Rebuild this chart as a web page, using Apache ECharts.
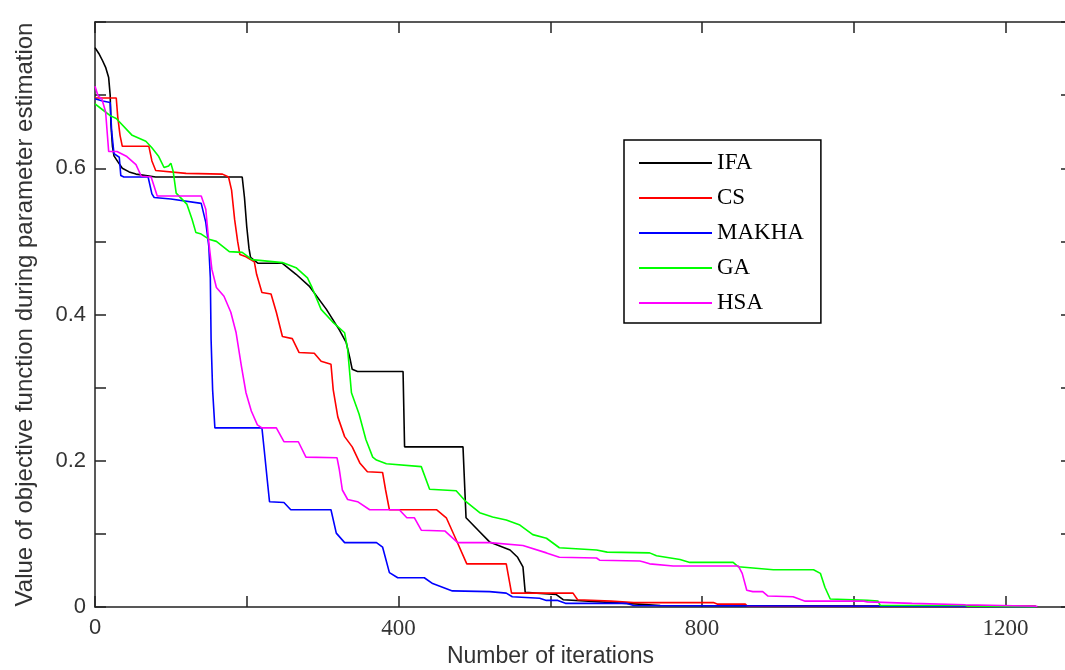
<!DOCTYPE html>
<html>
<head>
<meta charset="utf-8">
<script src="https://cdn.jsdelivr.net/npm/echarts@6/dist/echarts.min.js"></script>
<style>html,body{margin:0;padding:0;background:#fff;}#chart{width:1065px;height:670px;}</style>
</head>
<body>
<div id="chart"></div>
<script>
// Series names (legend order)
const seriesNames = ['IFA', 'CS', 'MAKHA', 'GA', 'HSA'];

// [iteration, objective value]
const ifaData = [[0,0.765],[5,0.757],[10,0.747],[14,0.738],[18,0.724],[20,0.70],[21,0.66],[23,0.63],[25,0.617],[30,0.609],[36,0.60],[45,0.595],[54,0.592],[80,0.588],[194,0.588],[197,0.56],[200,0.52],[203,0.49],[205,0.478],[215,0.47],[247,0.47],[265,0.455],[283,0.438],[305,0.407],[322,0.379],[331,0.362],[336,0.34],[339,0.325],[346,0.322],[406,0.322],[408,0.219],[485,0.219],[489,0.122],[505,0.105],[520,0.089],[547,0.078],[557,0.068],[564,0.055],[567,0.02],[608,0.017],[617,0.01],[700,0.005],[745,0.002],[1240,0.001]];

const csData = [[0,0.696],[28,0.696],[30,0.67],[33,0.645],[36,0.63],[71,0.63],[75,0.61],[80,0.597],[120,0.593],[168,0.592],[176,0.588],[180,0.57],[184,0.53],[188,0.5],[191,0.482],[199,0.479],[210,0.472],[213,0.455],[220,0.43],[232,0.428],[239,0.403],[247,0.37],[260,0.367],[269,0.348],[289,0.347],[298,0.336],[311,0.332],[314,0.297],[320,0.26],[329,0.233],[339,0.219],[349,0.197],[359,0.185],[379,0.184],[383,0.16],[388,0.133],[450,0.133],[463,0.122],[476,0.092],[490,0.059],[542,0.059],[549,0.019],[630,0.019],[636,0.01],[680,0.008],[710,0.006],[815,0.006],[820,0.004],[857,0.004],[860,0.001],[1240,0.0005]];

const makhaData = [[0,0.695],[10,0.692],[20,0.69],[22,0.65],[25,0.62],[32,0.615],[34,0.59],[38,0.588],[70,0.588],[75,0.565],[78,0.56],[100,0.558],[140,0.552],[146,0.526],[150,0.493],[152,0.45],[153,0.366],[155,0.297],[158,0.245],[220,0.245],[223,0.215],[227,0.174],[230,0.144],[249,0.143],[258,0.133],[311,0.133],[318,0.101],[329,0.088],[371,0.088],[379,0.082],[388,0.047],[399,0.04],[434,0.04],[445,0.032],[471,0.022],[520,0.021],[542,0.019],[550,0.014],[586,0.012],[595,0.009],[610,0.009],[620,0.005],[700,0.005],[710,0.002],[1057,0.001],[1240,0]];

const gaData = [[0,0.688],[10,0.68],[20,0.672],[28,0.668],[49,0.645],[67,0.637],[75,0.628],[84,0.616],[91,0.601],[97,0.603],[100,0.607],[103,0.596],[107,0.566],[121,0.551],[128,0.53],[133,0.512],[140,0.51],[150,0.503],[160,0.5],[177,0.486],[194,0.485],[207,0.475],[247,0.471],[265,0.464],[280,0.45],[286,0.437],[298,0.407],[313,0.39],[329,0.375],[333,0.352],[338,0.293],[348,0.264],[357,0.229],[366,0.205],[371,0.201],[384,0.196],[430,0.192],[441,0.161],[476,0.159],[489,0.144],[507,0.129],[524,0.123],[542,0.119],[560,0.112],[577,0.099],[595,0.094],[612,0.081],[661,0.078],[675,0.075],[731,0.074],[740,0.07],[771,0.065],[784,0.061],[841,0.061],[848,0.055],[894,0.051],[947,0.051],[956,0.046],[962,0.027],[969,0.011],[1018,0.009],[1032,0.008],[1035,0.002],[1147,0.002],[1150,0.001],[1240,0]];

const hsaData = [[0,0.712],[4,0.699],[9,0.695],[14,0.677],[16,0.65],[18,0.623],[29,0.623],[42,0.616],[54,0.605],[61,0.589],[74,0.588],[78,0.575],[82,0.562],[140,0.562],[146,0.544],[150,0.499],[154,0.462],[160,0.437],[170,0.425],[179,0.403],[186,0.375],[193,0.329],[199,0.293],[206,0.268],[214,0.249],[220,0.245],[239,0.245],[249,0.226],[268,0.226],[278,0.205],[319,0.204],[322,0.188],[326,0.16],[333,0.147],[346,0.144],[362,0.133],[401,0.133],[411,0.122],[421,0.122],[430,0.105],[461,0.104],[478,0.088],[520,0.088],[564,0.084],[595,0.074],[612,0.068],[661,0.067],[665,0.064],[718,0.063],[722,0.062],[731,0.059],[762,0.056],[848,0.056],[853,0.046],[859,0.023],[867,0.021],[880,0.021],[887,0.015],[920,0.014],[936,0.008],[1013,0.008],[1018,0.007],[1077,0.005],[1147,0.003],[1242,0.001]];

const seriesData = [ifaData, csData, makhaData, gaData, hsaData];
const seriesColors = ['#000000', '#ff0000', '#0000ff', '#00ff00', '#ff00ff'];

const xMin = 0, xMax = 1285, xStep = 200;
const yMin = 0, yMax = 0.8, yStep = 0.1;

const chart = echarts.init(document.getElementById('chart'), null, {renderer: 'canvas'});
const axisColor = '#222';
const labelColor = '#333';
const sans = 'Liberation Sans, Arial, sans-serif';
const serif = 'Liberation Serif, Times New Roman, serif';

const series = seriesNames.map((n, i) => ({
  name: n,
  type: 'line',
  data: seriesData[i],
  xAxisIndex: 0,
  yAxisIndex: 0,
  showSymbol: false,
  symbol: 'none',
  smooth: false,
  animation: false,
  lineStyle: {color: seriesColors[i], width: 1.6},
  itemStyle: {color: seriesColors[i]}
}));

chart.setOption({
  backgroundColor: '#fff',
  animation: false,
  grid: {left: 95, top: 22, width: 975, height: 585, containLabel: false, outerBoundsMode: 'none'},
  legend: {
    data: seriesNames,
    orient: 'vertical',
    left: 624,
    top: 140,
    icon: 'rect',
    itemWidth: 73,
    itemHeight: 2,
    itemGap: 11,
    padding: [11, 17, 8, 15],
    borderColor: '#000',
    borderWidth: 1.5,
    backgroundColor: '#fff',
    textStyle: {fontFamily: serif, fontSize: 23, color: '#000', lineHeight: 24}
  },
  xAxis: [{
    type: 'value', min: xMin, max: xMax, interval: xStep, position: 'bottom',
    name: 'Number of iterations', nameLocation: 'middle', nameGap: 38,
    nameTextStyle: {fontFamily: sans, fontSize: 23, color: labelColor, padding: [0, 64, 0, 0]},
    axisLine: {show: true, onZero: false, lineStyle: {color: axisColor, width: 1.5}},
    axisTick: {show: true, inside: true, length: 11, lineStyle: {color: axisColor, width: 1.5}},
    splitLine: {show: false},
    axisLabel: {
      margin: 10, showMaxLabel: false,
      formatter: v => (Math.round(v) % 400 === 0 ? (v === 0 ? '{s|0}' : '{t|' + Math.round(v) + '}') : ''),
      rich: {
        s: {fontFamily: sans, fontSize: 22, color: labelColor},
        t: {fontFamily: serif, fontSize: 23, color: labelColor}
      }
    }
  }, {
    type: 'value', min: xMin, max: xMax, interval: xStep, position: 'top',
    axisLine: {show: true, onZero: false, lineStyle: {color: axisColor, width: 1.5}},
    axisTick: {show: true, inside: true, length: 11, lineStyle: {color: axisColor, width: 1.5}},
    axisLabel: {show: false}, splitLine: {show: false}
  }],
  yAxis: [{
    type: 'value', min: yMin, max: yMax, interval: yStep, position: 'left',
    name: 'Value of objective function during parameter estimation', nameLocation: 'middle', nameGap: 58,
    nameTextStyle: {fontFamily: sans, fontSize: 24, color: labelColor},
    axisLine: {show: true, onZero: false, lineStyle: {color: axisColor, width: 1.5}},
    axisTick: {show: true, inside: true, length: 11, lineStyle: {color: axisColor, width: 1.5}},
    splitLine: {show: false},
    axisLabel: {
      margin: 9, fontFamily: sans, fontSize: 22, color: labelColor,
      formatter: v => { const t = Math.round(v * 10); if (t % 2 !== 0 || t >= 8) return ''; return t === 0 ? '0' : (t / 10).toFixed(1); }
    }
  }, {
    type: 'value', min: yMin, max: yMax, interval: yStep, position: 'right',
    axisLine: {show: true, onZero: false, lineStyle: {color: axisColor, width: 1.5}},
    axisTick: {show: true, inside: true, length: 9, lineStyle: {color: axisColor, width: 1.5}},
    axisLabel: {show: false}, splitLine: {show: false}
  }],
  series: series
});
</script>
</body>
</html>
